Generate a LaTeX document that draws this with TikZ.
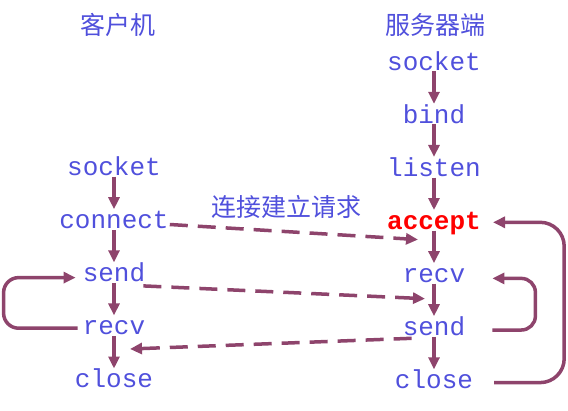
\documentclass[tikz,border=0pt]{standalone}
\usepackage{fontspec}
\newfontfamily\codefont{Liberation Mono}
\newfontfamily\cjkfont{Noto Sans CJK SC}
\usetikzlibrary{arrows.meta, positioning}
\definecolor{callblue}{RGB}{80,80,220}
\definecolor{flowpurple}{RGB}{142,68,108}

\begin{document}
\begin{tikzpicture}[
    x=1pt, y=-1pt,
    node distance=32.5pt,
    call/.style={text=callblue, font=\codefont\fontsize{26}{26}\selectfont, text height=18.2pt, text depth=0pt, inner sep=1pt},
    head/.style={text=callblue, font=\cjkfont\fontsize{25}{25}\selectfont, inner sep=0pt},
    flow/.style={-{Triangle[length=12pt,width=11pt]}, line width=3.5pt, draw=flowpurple},
    msg/.style={flow, dash pattern=on 18pt off 10pt},
    back/.style={flow, rounded corners=18pt}
]
\useasboundingbox (0,0) rectangle (568,410);

% Headers
\node[head] (client) at (118,25) {客户机};
\node[head] (server) at (435,25) {服务器端};

% Server calls
\node[call] (ssocket) at (434,61) {socket};
\node[call, below=of ssocket] (sbind) {bind};
\node[call, below=of sbind] (slisten) {listen};
\node[call, below=of slisten, text=red, font=\codefont\bfseries\fontsize{26}{26}\selectfont] (saccept) {accept};
\node[call, below=of saccept] (srecv) {recv};
\node[call, below=of srecv] (ssend) {send};
\node[call, below=of ssend] (sclose) {close};

% Client calls
\node[call] (csocket) at (114,166.4) {socket};
\node[call, below=of csocket] (cconnect) {connect};
\node[call, below=of cconnect] (csend) {send};
\node[call, below=of csend] (crecv) {recv};
\node[call, below=of crecv] (cclose) {close};

% Call order
\draw[flow] (ssocket) -- (sbind);
\draw[flow] (sbind) -- (slisten);
\draw[flow] (slisten) -- (saccept);
\draw[flow] (saccept) -- (srecv);
\draw[flow] (srecv) -- (ssend);
\draw[flow] (ssend) -- (sclose);
\draw[flow] (csocket) -- (cconnect);
\draw[flow] (cconnect) -- (csend);
\draw[flow] (csend) -- (crecv);
\draw[flow] (crecv) -- (cclose);

% Messages
\draw[msg] ([yshift=-5pt]cconnect.east) -- node[head, pos=0.47, above=11pt] (req) {连接建立请求} ([xshift=-16pt,yshift=-9pt]saccept.south);
\draw[msg] ([xshift=-3pt,yshift=-3pt]csend.south east) -- ([xshift=-9pt,yshift=-15pt]srecv.south);
\draw[msg] ([xshift=10pt,yshift=-1.5pt]ssend.south west) -- ([xshift=16pt,yshift=-13pt]crecv.south);

% Loops
\draw[back, rounded corners=15pt] ([xshift=-4pt,yshift=-2.5pt]crecv.west) -- ++(-74,0) |- ([xshift=-6pt,yshift=-5pt]csend.west);
\draw[back, rounded corners=14pt] ([xshift=26pt,yshift=-3.5pt]ssend.east) -- ++(43,0) |- ([xshift=26pt,yshift=-5pt]srecv.east);
\draw[back, rounded corners=24pt] ([xshift=20pt,yshift=-3pt]sclose.east) -- ++(70,0) |- ([xshift=11pt,yshift=-2pt]saccept.east);

\end{tikzpicture}
\end{document}
